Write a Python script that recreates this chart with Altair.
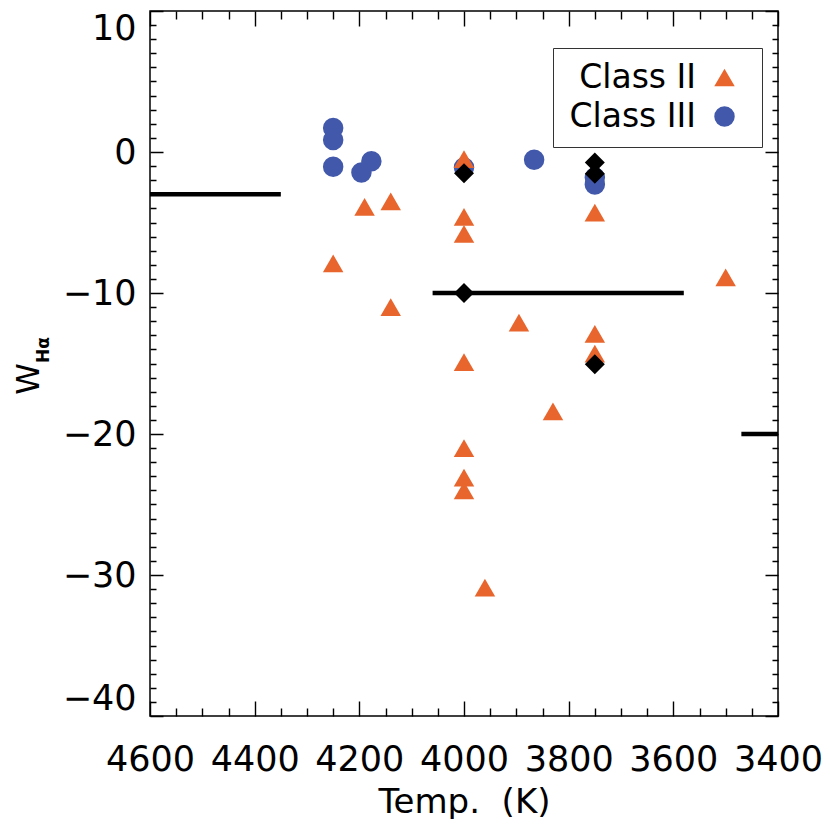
import altair as alt
import pandas as pd

# ---- data ----
# Class II (orange triangles)
c2_temp = [4250, 4190, 4140, 4140, 4000, 4000, 4000, 4000, 4000, 4000, 4000,
           3960, 3895, 3830, 3750, 3750, 3750, 3500]
c2_w = [-7.9, -3.9, -3.5, -11.0, -0.5, -4.6, -5.8, -14.9, -21.0, -23.1, -24.0,
        -30.9, -12.1, -18.4, -4.3, -12.9, -14.3, -8.9]
# Class III (blue circles)
c3_temp = [4250, 4250, 4250, 4196, 4177, 4000, 3866, 3750, 3750]
c3_w = [1.7, 0.85, -1.05, -1.45, -0.65, -1.1, -0.55, -1.8, -2.3]
# black diamonds
d_temp = [4000, 4000, 3750, 3750, 3750]
d_w = [-1.5, -10.0, -0.75, -1.55, -15.05]
# horizontal segments
seg_t1 = [4600, 4060, 3470]
seg_t2 = [4350, 3580, 3400]
seg_w = [-3.0, -10.0, -20.0]

classes = ["Class II", "Class III"]
x_ticks = list(range(3400, 4601, 50))
y_ticks = list(range(-40, 11, 1))

W, H = 628, 705
FONT = "DejaVu Sans"
ORANGE = "#E8662D"
BLUE = "#4259AB"

pts = pd.DataFrame({
    "cls": ["Class III"] * len(c3_temp) + ["Class II"] * len(c2_temp),
    "T": c3_temp + c2_temp,
    "W": c3_w + c2_w,
})
dia = pd.DataFrame({"T": d_temp, "W": d_w})
seg = pd.DataFrame({"T": seg_t1, "T2": seg_t2, "W": seg_w})

xscale = alt.Scale(domain=[3400, 4600], reverse=True, nice=False, zero=False)
yscale = alt.Scale(domain=[-40, 10], nice=False, zero=False)

xaxis = alt.Axis(
    values=x_ticks, format="d",
    labelExpr="datum.value % 200 === 0 ? datum.label : ''",
    labelFlush=False, labelOverlap=False, ticks=False, tickSize=0, domain=False,
    grid=True, gridColor="black", gridWidth=1.4, gridOpacity=1,
    gridDash={"condition": {"test": "datum.value % 200 === 0", "value": [15, H - 30, 15]},
              "value": [8, H - 16, 8]},
    labelFont=FONT, labelFontSize=35, labelColor="black", labelPadding=26,
    title="Temp.\u00a0\u00a0(K)", titleFont=FONT, titleFontSize=34, titleFontWeight="normal",
    titleColor="black", titlePadding=8,
)
yaxis = alt.Axis(
    values=y_ticks, format="d",
    labelExpr="datum.value % 10 === 0 ? datum.label : ''",
    labelFlush=True, labelOverlap=False, ticks=False, tickSize=0, domain=False,
    grid=True, gridColor="black", gridWidth=1.4, gridOpacity=1,
    gridDash={"condition": {"test": "datum.value % 10 === 0", "value": [13, W - 26, 13]},
              "value": [6, W - 12, 6]},
    labelFont=FONT, labelFontSize=35, labelColor="black", labelPadding=14,
    title=None,
)

X = alt.X("T:Q", scale=xscale, axis=xaxis)
Y = alt.Y("W:Q", scale=yscale, axis=yaxis)

lines = alt.Chart(seg).mark_rule(color="black", strokeWidth=4.5).encode(
    x=X, x2="T2:Q", y=Y
)

leg = alt.Legend(
    title=" ", titleOrient="right", titlePadding=14, titleFontSize=1,
    orient="none", legendX=403, legendY=37,
    strokeColor="#333", fillColor="white", padding=13,
    labelFont=FONT, labelFontSize=33, labelColor="black",
    labelAlign="right", labelOffset={"expr": "-45"}, symbolOffset=142,
    symbolSize=420, symbolStrokeWidth=0, rowPadding=5, direction="vertical",
)

points = alt.Chart(pts).mark_point(filled=True, opacity=1, size=420).encode(
    x=X, y=Y,
    shape=alt.Shape("cls:N", scale=alt.Scale(domain=classes,
                                             range=["triangle-up", "circle"]),
                    legend=leg),
    color=alt.Color("cls:N", scale=alt.Scale(domain=classes, range=[ORANGE, BLUE]),
                    legend=leg),
)

diamonds = alt.Chart(dia).mark_point(shape="diamond", filled=True, color="black",
                                     opacity=1, size=400).encode(x=X, y=Y)

one = pd.DataFrame({"a": [0]})
t_w = alt.Chart(one).mark_text(text="W", font=FONT, fontSize=32, angle=270,
                               align="center", baseline="alphabetic",
                               color="black").encode(
    x=alt.value(-111), y=alt.value(368))
t_sub = alt.Chart(one).mark_text(text="Hα", font=FONT, fontSize=17, fontWeight="bold",
                                 angle=270, align="center", baseline="alphabetic",
                                 color="black").encode(
    x=alt.value(-101), y=alt.value(339))

chart = alt.layer(lines, points, diamonds, t_w, t_sub).properties(
    width=W, height=H, background="white",
    padding={"left": 142, "top": 3, "right": 44, "bottom": 103},
    autosize=alt.AutoSizeParams(type="none"),
).configure_view(stroke="black", strokeWidth=1.5)

chart.save("out.html", embed_options={"renderer": "svg", "actions": False})
